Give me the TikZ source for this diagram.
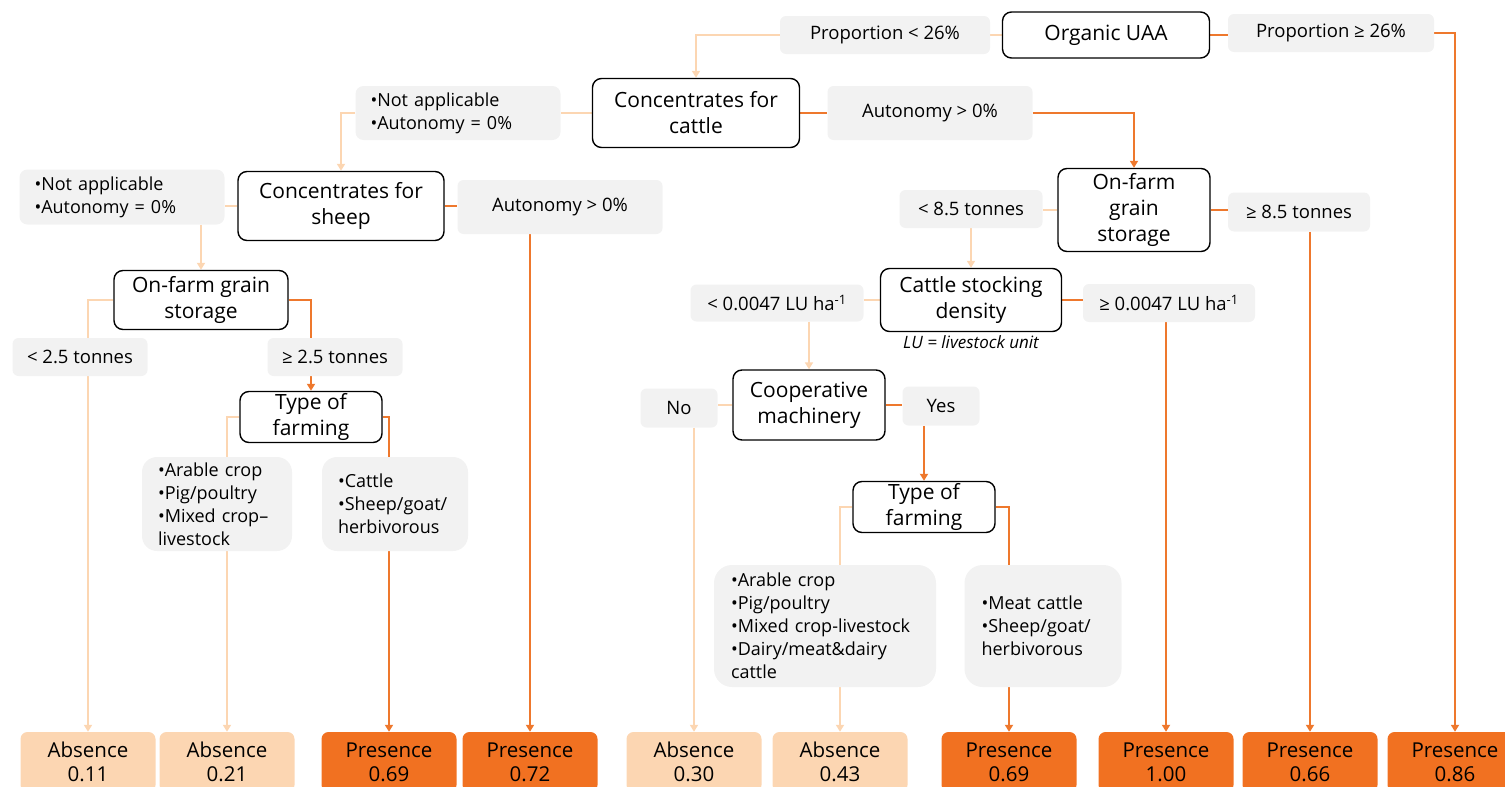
\documentclass[tikz,border=0pt]{standalone}
\usepackage{fontspec}
\setmainfont{Open Sans}
\usetikzlibrary{arrows.meta, positioning, backgrounds}
\definecolor{lopeach}{RGB}{252,214,178}
\definecolor{hifill}{RGB}{241,113,33}
\definecolor{hiline}{RGB}{238,120,45}
\definecolor{lblgray}{RGB}{242,242,242}
\tikzset{
  decide/.style={draw=black, line width=1.4pt, rounded corners=9pt, fill=white,
    align=center, inner sep=0pt, font=\fontsize{21}{26}\selectfont},
  cond/.style={fill=lblgray, rounded corners=6pt, align=center, inner sep=0pt,
    font=\fontsize{18.5}{23}\selectfont},
  bullets/.style={fill=lblgray, rounded corners=8pt, align=left, inner ysep=0pt,
    font=\fontsize{18}{23}\selectfont},
  leaf/.style={rounded corners=7pt, minimum width=135, minimum height=60,
    align=center, inner sep=0pt, font=\fontsize{20.5}{24}\selectfont},
  absent/.style={leaf, fill=lopeach},
  present/.style={leaf, fill=hifill},
  lo/.style={draw=lopeach, line width=2pt},
  hi/.style={draw=hiline, line width=2pt},
  arr/.style={-{Triangle[width=8pt,length=7pt]}},
}

\begin{document}
\begin{tikzpicture}[x=1pt, y=-1pt]
  \useasboundingbox (0,0) rectangle (1505,787);
  \clip (0,0) rectangle (1505,787);

  % ---------- splits ----------
  \node[decide, minimum width=207, minimum height=46] (uaa) at (1106,35) {Organic UAA};
  \node[decide, minimum width=207, minimum height=69] (ccat) at (696,113) {Concentrates for\\cattle};
  \node[decide, minimum width=206, minimum height=69] (cshp) at (341,206) {Concentrates for\\sheep};
  \node[decide, minimum width=174, minimum height=59] (gsl) at (201,300) {On-farm grain\\storage};
  \node[decide, minimum width=142, minimum height=51] (tfl) at (311,417) {Type of\\farming};
  \node[decide, minimum width=152, minimum height=83] (gsr) at (1134,210) {On-farm\\grain\\storage};
  \node[decide, minimum width=181, minimum height=63] (csd) at (971,300) {Cattle stocking\\density};
  \node[font=\fontsize{17}{19}\selectfont\itshape, inner sep=0pt, below=3pt of csd] (lu) {LU = livestock unit};
  \node[decide, minimum width=152, minimum height=70] (coop) at (809,405) {Cooperative\\machinery};
  \node[decide, minimum width=142, minimum height=51] (tfr) at (924,507) {Type of\\farming};

  % ---------- conditions ----------
  \node[cond, minimum width=210, minimum height=38] (plt) at (885,35) {Proportion < 26\%};
  \node[cond, minimum width=206, minimum height=38] (pge) at (1331,33) {Proportion ≥ 26\%};
  \node[bullets, text width=175, inner xsep=15, minimum height=54] (cc0) at (458,113)
    {•Not applicable\\•Autonomy = 0\%};
  \node[cond, minimum width=205, minimum height=54] (ccp) at (930,113) {Autonomy > 0\%};
  \node[bullets, text width=175, inner xsep=15, minimum height=55] (cs0) at (122,197)
    {•Not applicable\\•Autonomy = 0\%};
  \node[cond, minimum width=205, minimum height=54] (csp) at (560,207) {Autonomy > 0\%};
  \node[cond, minimum width=135, minimum height=38] (lt25) at (80,357) {< 2.5 tonnes};
  \node[cond, minimum width=135, minimum height=38] (ge25) at (335,357) {≥ 2.5 tonnes};
  \node[bullets, rounded corners=15pt, text width=118, inner xsep=16, minimum height=94] (tl1) at (217,504)
    {•Arable crop\\•Pig/poultry\\•Mixed crop–\\livestock};
  \node[bullets, rounded corners=15pt, text width=114, inner xsep=16, minimum height=94] (tl2) at (395,504)
    {•Cattle\\•Sheep/goat/\\herbivorous};
  \node[cond, minimum width=143, minimum height=38] (lt85) at (971,209) {< 8.5 tonnes};
  \node[cond, minimum width=142, minimum height=39] (ge85) at (1299,212) {≥ 8.5 tonnes};
  \node[cond, minimum width=173, minimum height=37] (ltlu) at (777,303) {< 0.0047 LU ha\textsuperscript{-1}};
  \node[cond, minimum width=172, minimum height=38] (gelu) at (1169,303) {≥ 0.0047 LU ha\textsuperscript{-1}};
  \node[cond, minimum width=77, minimum height=39] (no) at (679,408) {No};
  \node[cond, minimum width=77, minimum height=39] (yes) at (941,406) {Yes};
  \node[bullets, rounded corners=18pt, text width=188, inner xsep=17, minimum height=122] (tr1) at (825,626)
    {•Arable crop\\•Pig/poultry\\•Mixed crop-livestock\\•Dairy/meat\&dairy\\cattle};
  \node[bullets, rounded corners=18pt, text width=123, inner xsep=17, minimum height=122] (tr2) at (1043,626)
    {•Meat cattle\\•Sheep/goat/\\herbivorous};

  % ---------- leaves ----------
  \node[absent]  (a011)  at (88,762)   {Absence\\0.11};
  \node[absent]  (a021)  at (227,762)  {Absence\\0.21};
  \node[present] (p069a) at (389,762)  {Presence\\0.69};
  \node[present] (p072)  at (530,762)  {Presence\\0.72};
  \node[absent]  (a030)  at (694,762)  {Absence\\0.30};
  \node[absent]  (a043)  at (840,762)  {Absence\\0.43};
  \node[present] (p069b) at (1009,762) {Presence\\0.69};
  \node[present] (p100)  at (1166,762) {Presence\\1.00};
  \node[present] (p066)  at (1310,762) {Presence\\0.66};
  \node[present] (p086)  at (1455,762) {Presence\\0.86};

  % ---------- branches ----------
  \begin{scope}[on background layer]
    % organic UAA
    \draw[lo] (uaa.west) -- (uaa.west -| plt.east);
    \draw[lo, arr] (plt.west) -| (ccat.north);
    \draw[hi] (uaa.east) -- (uaa.east -| pge.west);
    \draw[hi, arr] (pge.east) -| (p086.north);
    % concentrates for cattle
    \draw[lo] (ccat.west) -- (ccat.west -| cc0.east);
    \draw[lo, arr] (cc0.west) -| (cshp.north);
    \draw[hi] (ccat.east) -- (ccat.east -| ccp.west);
    \draw[hi, arr] (ccp.east) -| (gsr.north);
    % concentrates for sheep
    \draw[lo] (cshp.west) -- (cshp.west -| cs0.east);
    \draw[lo, arr] (cs0.south -| gsl.north) -- (gsl.north);
    \draw[hi] (cshp.east) -- (cshp.east -| csp.west);
    \draw[hi, arr] (csp.south -| p072.north) -- (p072.north);
    % left grain storage + farming type
    \draw[lo, arr] (gsl.west) -| (a011.north);
    \draw[hi, arr] (gsl.east) -| (tfl.north);
    \draw[lo, arr] (tfl.west) -| (a021.north);
    \draw[hi, arr] (tfl.east) -| (p069a.north);
    % right grain storage
    \draw[lo] (gsr.west) -- (gsr.west -| lt85.east);
    \draw[lo, arr] (lt85.south -| csd.north) -- (csd.north);
    \draw[hi] (gsr.east) -- (gsr.east -| ge85.west);
    \draw[hi, arr] (ge85.south -| p066.north) -- (p066.north);
    % stocking density
    \draw[lo] (csd.west) -- (csd.west -| ltlu.east);
    \draw[lo, arr] (ltlu.south -| coop.north) -- (coop.north);
    \draw[hi] (csd.east) -- (csd.east -| gelu.west);
    \draw[hi, arr] (gelu.south -| p100.north) -- (p100.north);
    % cooperative machinery
    \draw[lo] (coop.west) -- (coop.west -| no.east);
    \draw[lo, arr] (no.south -| a030.north) -- (a030.north);
    \draw[hi] (coop.east) -- (coop.east -| yes.west);
    \draw[hi, arr] (yes.south -| tfr.north) -- (tfr.north);
    % right farming type
    \draw[lo, arr] (tfr.west) -| (a043.north);
    \draw[hi, arr] (tfr.east) -| (p069b.north);
  \end{scope}

\end{tikzpicture}
\end{document}
